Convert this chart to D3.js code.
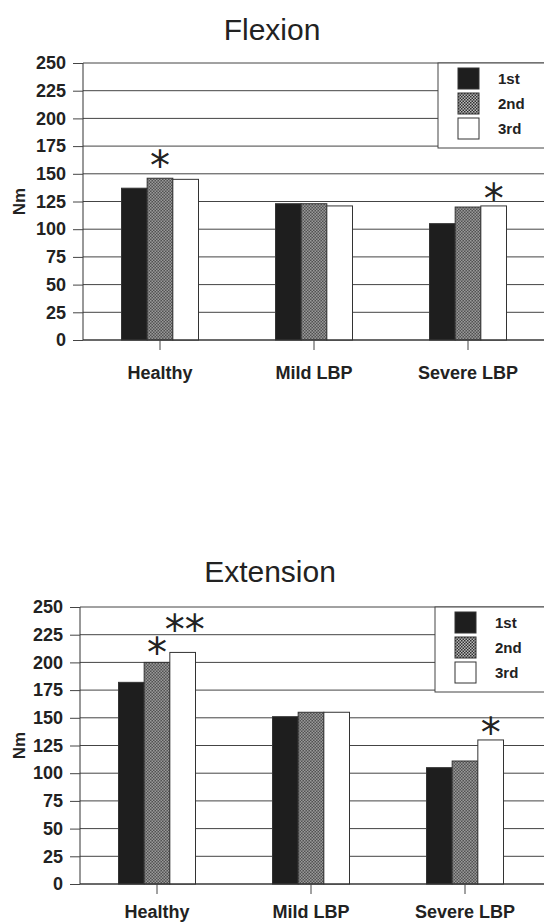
<!DOCTYPE html>
<html>
<head>
<meta charset="utf-8">
<script src="https://cdn.jsdelivr.net/npm/d3@7"></script>
<style>
  html, body { margin: 0; padding: 0; background: #fff; }
  svg { display: block; }
  text { font-family: Arial, "Liberation Sans", sans-serif; fill: #222; }
</style>
</head>
<body>
<svg id="chart" width="544" height="923"></svg>
<script>
// ---- data ----
const categories = ["Healthy", "Mild LBP", "Severe LBP"];
const seriesNames = ["1st", "2nd", "3rd"];
const yTickValues = [0, 25, 50, 75, 100, 125, 150, 175, 200, 225, 250];

const flexion1st = [137, 123, 105];
const flexion2nd = [146, 123, 120];
const flexion3rd = [145, 121, 121];

const extension1st = [182, 151, 105];
const extension2nd = [200, 155, 111];
const extension3rd = [209, 155, 130];

const flexionMarks = [
  { cat: "Healthy", series: "2nd", label: "*" },
  { cat: "Severe LBP", series: "3rd", label: "*" }
];
const extensionMarks = [
  { cat: "Healthy", series: "2nd", label: "*" },
  { cat: "Healthy", series: "3rd", label: "**" },
  { cat: "Severe LBP", series: "3rd", label: "*" }
];

// ---- layout ----
const panels = [
  { title: "Flexion", titleX: 272, titleY: 40, left: 83, right: 545, top: 63, bottom: 340, labelPad: 16,
    series: [flexion1st, flexion2nd, flexion3rd], marks: flexionMarks, markLift: [18, 13] },
  { title: "Extension", titleX: 270, titleY: 582, left: 80, right: 542, top: 607, bottom: 884, labelPad: 11,
    series: [extension1st, extension2nd, extension3rd], marks: extensionMarks, markLift: [15, 28, 13] }
];

const svg = d3.select("#chart");
const defs = svg.append("defs");
const pat = defs.append("pattern").attr("id", "hatch")
  .attr("patternUnits", "userSpaceOnUse").attr("width", 3).attr("height", 3);
pat.append("rect").attr("width", 3).attr("height", 3).attr("fill", "#bdbdbd");
pat.append("rect").attr("x", 0).attr("y", 0).attr("width", 1.5).attr("height", 1.5).attr("fill", "#2e2e2e");
pat.append("rect").attr("x", 1.5).attr("y", 1.5).attr("width", 1.5).attr("height", 1.5).attr("fill", "#2e2e2e");

const fills = d3.scaleOrdinal().domain(seriesNames).range(["#1e1e1e", "url(#hatch)", "#ffffff"]);

panels.forEach(p => {
  const g = svg.append("g");
  const x0 = d3.scaleBand().domain(categories).range([p.left, p.right]).paddingInner(0.5).paddingOuter(0.25);
  const x1 = d3.scaleBand().domain(seriesNames).range([0, x0.bandwidth()]);
  const y = d3.scaleLinear().domain([0, 250]).range([p.bottom, p.top]);

  // title
  g.append("text").attr("x", p.titleX).attr("y", p.titleY).attr("text-anchor", "middle")
    .style("font-size", "30px").text(p.title);

  // gridlines
  g.append("g").selectAll("line").data(yTickValues).join("line")
    .attr("x1", p.left).attr("x2", 544).attr("y1", d => y(d)).attr("y2", d => y(d))
    .attr("stroke", "#444").attr("stroke-width", 1);

  // y axis
  const yAxis = g.append("g").attr("transform", `translate(${p.left},0)`)
    .call(d3.axisLeft(y).tickValues(yTickValues).tickSize(10).tickPadding(7));
  yAxis.select(".domain").attr("stroke", "#333").attr("d", `M0,${p.top}V${p.bottom}`);
  yAxis.selectAll(".tick line").attr("stroke", "#444");
  yAxis.selectAll(".tick text").style("font-size", "18px").style("font-weight", "bold")
    .style("font-family", "Arial, 'Liberation Sans', sans-serif").attr("fill", "#222");

  // y label
  g.append("text").attr("transform", `translate(25,${(p.top + p.bottom) / 2}) rotate(-90)`)
    .attr("text-anchor", "middle").style("font-size", "17px").style("font-weight", "bold").text("Nm");

  // bars
  const rows = categories.map((c, i) => ({ cat: c, vals: seriesNames.map((s, j) => ({ s, v: p.series[j][i] })) }));
  g.append("g").selectAll("g").data(rows).join("g")
    .attr("transform", d => `translate(${x0(d.cat)},0)`)
    .selectAll("rect").data(d => d.vals).join("rect")
    .attr("x", d => x1(d.s)).attr("width", x1.bandwidth())
    .attr("y", d => y(d.v)).attr("height", d => y(0) - y(d.v))
    .attr("fill", d => fills(d.s)).attr("stroke", "#333").attr("stroke-width", 1);

  // x axis
  const xAxis = g.append("g").attr("transform", `translate(0,${p.bottom})`)
    .call(d3.axisBottom(x0).tickSize(10).tickPadding(p.labelPad));
  xAxis.select(".domain").attr("stroke", "#333").attr("d", `M${p.left},0H544`);
  xAxis.selectAll(".tick line").attr("stroke", "#444");
  xAxis.selectAll(".tick text").style("font-size", "18px").style("font-weight", "bold")
    .style("font-family", "Arial, 'Liberation Sans', sans-serif").attr("fill", "#222");

  // significance marks
  const fs = 40;
  g.append("g").selectAll("text").data(p.marks).join("text")
    .attr("x", d => x0(d.cat) + x1(d.series) + x1.bandwidth() / 2 + (d.label.length > 1 ? 2 : 0))
    .attr("y", (d, i) => {
      const v = p.series[seriesNames.indexOf(d.series)][categories.indexOf(d.cat)];
      return y(v) - p.markLift[i] + fs * 0.5;
    })
    .attr("text-anchor", "middle")
    .style("font-family", "'DejaVu Sans', sans-serif").style("font-size", fs + "px")
    .text(d => d.label);

  // legend
  const lx = p.right - 107, ly = p.top;
  const lg = g.append("g");
  lg.append("rect").attr("x", lx).attr("y", ly).attr("width", 140).attr("height", 85)
    .attr("fill", "#fff").attr("stroke", "#444").attr("stroke-width", 1);
  const items = lg.selectAll("g").data(seriesNames).join("g")
    .attr("transform", (d, i) => `translate(${lx + 20},${ly + 5 + i * 25})`);
  items.append("rect").attr("width", 21).attr("height", 21)
    .attr("fill", d => fills(d)).attr("stroke", "#333").attr("stroke-width", 1);
  items.append("text").attr("x", 40).attr("y", 16).style("font-size", "15px")
    .style("font-weight", "bold").text(d => d);
});
</script>
</body>
</html>
